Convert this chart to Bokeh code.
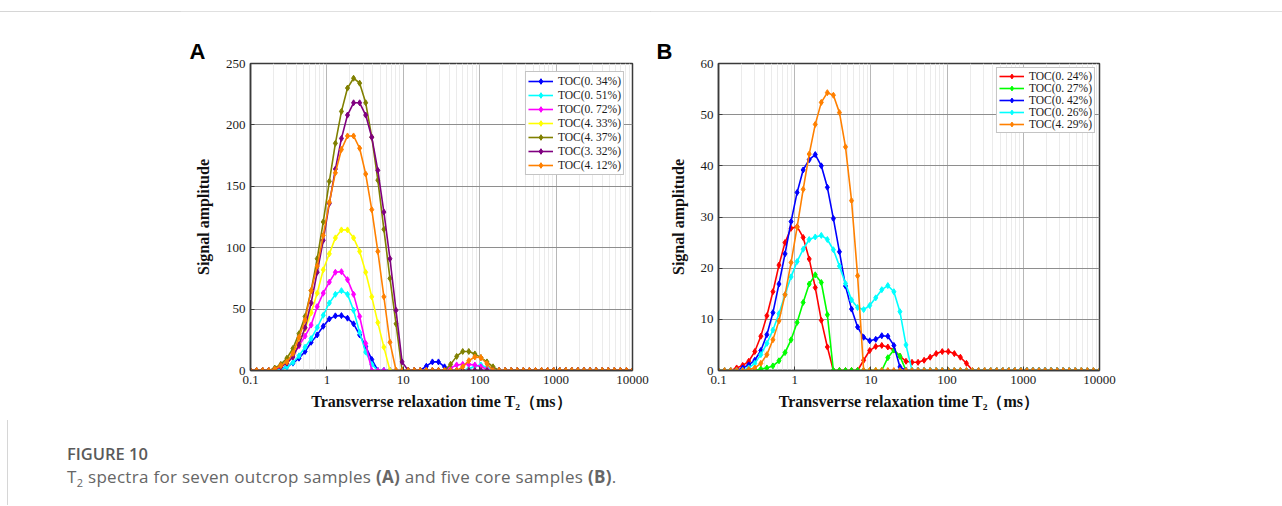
from bokeh.plotting import figure
from bokeh.models import Range1d, FixedTicker, Div, Spacer, CustomJSTickFormatter
from bokeh.layouts import column, row
from bokeh.embed import file_html
from bokeh.resources import INLINE

# ---------------- data ----------------
T2 = [0.1, 0.1201, 0.1442, 0.1731, 0.2078, 0.2494, 0.2994, 0.3594,
      0.4314, 0.5179, 0.6217, 0.7464, 0.8960, 1.0758, 1.2915, 1.5504,
      1.8612, 2.2344, 2.6827, 3.2201, 3.8656, 4.6416, 5.5720, 6.6888,
      8.0299, 9.6411, 11.574, 13.895, 16.681, 20.025, 24.040, 28.859,
      34.646, 41.593, 49.933, 59.948, 71.969, 86.401, 103.72, 124.52,
      149.49, 179.47, 215.44, 258.64, 310.50, 372.76, 447.51, 537.24,
      644.97, 774.26, 929.54, 1115.9, 1339.7, 1608.3, 1930.7, 2318.0,
      2782.6, 3340.5, 4010.4, 4814.6, 5780.2, 6939.2, 8330.5, 10000.0]

x_ticks = [0.1, 1, 10, 100, 1000, 10000]
yA_ticks = [0, 50, 100, 150, 200, 250]
yB_ticks = [0, 10, 20, 30, 40, 50, 60]

labels_A = ["TOC(0. 34%)", "TOC(0. 51%)", "TOC(0. 72%)", "TOC(4. 33%)",
            "TOC(4. 37%)", "TOC(3. 32%)", "TOC(4. 12%)"]
colors_A = ["#0000ff", "#00ffff", "#ff00ff", "#ffff00", "#808000", "#800080", "#ff8000"]

a_034 = [0, 0, 0, 0, 0.3, 1, 3, 6, 10, 15.5, 23, 29, 36, 42, 44.5, 44.7,
         42.6, 38, 29, 19.5, 9, 0, 0, 0, 0, 0, 0, 0, 0, 3.5, 7, 7,
         3, 0, 0, 0, 0, 0, 0, 0, 0, 0, 0, 0, 0, 0, 0, 0,
         0, 0, 0, 0, 0, 0, 0, 0, 0, 0, 0, 0, 0, 0, 0, 0]
a_051 = [0, 0, 0, 0, 0, 1, 3, 6.5, 12, 19, 26, 35, 45, 55, 62, 65,
         62, 49, 31, 15, 5, 0, 0, 0, 0, 0, 0, 0, 0, 0, 0, 0,
         0, 0, 0, 0, 1.5, 3.5, 4.5, 2.5, 0, 0, 0, 0, 0, 0, 0, 0,
         0, 0, 0, 0, 0, 0, 0, 0, 0, 0, 0, 0, 0, 0, 0, 0]
a_072 = [0, 0, 0, 0, 0.5, 3, 7, 13, 20, 28, 37, 52, 63, 72, 80, 80.5,
         74, 62, 44, 22, 0, 0, 0, 0, 0, 0, 0, 0, 0, 0, 0, 0,
         0, 2, 4.5, 5, 5, 4.5, 3, 1, 0, 0, 0, 0, 0, 0, 0, 0,
         0, 0, 0, 0, 0, 0, 0, 0, 0, 0, 0, 0, 0, 0, 0, 0]
a_433 = [0, 0, 0, 0, 1, 4, 7, 14, 22, 34, 47, 63, 82, 95, 108, 114.5,
         114.5, 108, 97, 80, 60, 39, 19, 0, 0, 0, 0, 0, 0, 0, 0, 0,
         0, 0, 0, 0, 0, 0, 0, 0, 0, 0, 0, 0, 0, 0, 0, 0,
         0, 0, 0, 0, 0, 0, 0, 0, 0, 0, 0, 0, 0, 0, 0, 0]
a_437 = [0, 0, 0, 0, 2, 5, 10, 18, 30, 44, 65, 91, 121, 154, 185, 211,
         230, 238, 234, 218, 190, 155, 115, 75, 38, 0, 0, 0, 0, 0, 0, 0,
         0, 5, 11.5, 15.5, 15.5, 13.5, 10.5, 7, 3, 0, 0, 0, 0, 0, 0, 0,
         0, 0, 0, 0, 0, 0, 0, 0, 0, 0, 0, 0, 0, 0, 0, 0]
a_332 = [0, 0, 0, 0, 1, 3, 6, 11, 21, 35, 55, 80, 106, 136, 164, 189,
         208, 218, 218, 208, 190, 163, 129, 91, 49, 7, 0, 0, 0, 0, 0, 0,
         0, 0, 0, 0, 0, 0, 0, 0, 0, 0, 0, 0, 0, 0, 0, 0,
         0, 0, 0, 0, 0, 0, 0, 0, 0, 0, 0, 0, 0, 0, 0, 0]
a_412 = [0, 0, 0, 0, 1, 4, 7, 14, 27, 41, 65, 85, 110, 137, 161, 180,
         191, 191, 181, 160, 131, 97, 60, 23, 0, 0, 0, 0, 0, 0, 0, 0,
         0, 0, 0, 3, 8, 11, 10.5, 5.5, 0, 0, 0, 0, 0, 0, 0, 0,
         0, 0, 0, 0, 0, 0, 0, 0, 0, 0, 0, 0, 0, 0, 0, 0]

labels_B = ["TOC(0. 24%)", "TOC(0. 27%)", "TOC(0. 42%)", "TOC(0. 26%)", "TOC(4. 29%)"]
colors_B = ["#ff0000", "#00ff00", "#0000ff", "#00ffff", "#ff8000"]

b_024 = [0, 0, 0, 0.5, 1, 1.8, 3.7, 6.7, 10.7, 15.4, 20.6, 25, 27.8, 28.1, 26, 21.8,
         16.2, 9.8, 4.6, 0, 0, 0, 0, 0, 2, 3.9, 4.7, 4.9, 4.6, 4.0, 2.8, 1.8,
         1.6, 1.6, 2.0, 2.6, 3.3, 3.7, 3.7, 3.3, 2.6, 1.4, 0, 0, 0, 0, 0, 0,
         0, 0, 0, 0, 0, 0, 0, 0, 0, 0, 0, 0, 0, 0, 0, 0]
b_027 = [0, 0, 0, 0, 0, 0, 0, 0.3, 0.5, 0.9, 1.9, 3.5, 6.0, 9.4, 13.3, 16.9,
         18.7, 17.2, 10.9, 0, 0, 0, 0, 0, 0, 0, 0, 0, 2.5, 4.0, 2.8, 0,
         0, 0, 0, 0, 0, 0, 0, 0, 0, 0, 0, 0, 0, 0, 0, 0,
         0, 0, 0, 0, 0, 0, 0, 0, 0, 0, 0, 0, 0, 0, 0, 0]
b_042 = [0, 0, 0, 0, 0.5, 1.1, 2.0, 3.9, 7.0, 11.3, 16.9, 22.8, 29.1, 34.8, 39.2, 41.2,
         42.2, 40.0, 35.8, 29.7, 23.2, 16.5, 12.0, 8.5, 6.5, 5.8, 6.1, 6.8, 6.7, 4.9, 0.7, 0,
         0, 0, 0, 0, 0, 0, 0, 0, 0, 0, 0, 0, 0, 0, 0, 0,
         0, 0, 0, 0, 0, 0, 0, 0, 0, 0, 0, 0, 0, 0, 0, 0]
b_026 = [0, 0, 0, 0, 0, 0.5, 1.4, 3.1, 5.3, 7.9, 11.1, 14.8, 18.3, 21.3, 23.7, 25.6,
         26.1, 26.4, 25.6, 23.6, 20.4, 17.0, 13.8, 12.3, 11.9, 12.7, 14.2, 15.8, 16.6, 15.4, 11.5, 5.0,
         0, 0, 0, 0, 0, 0, 0, 0, 0, 0, 0, 0, 0, 0, 0, 0,
         0, 0, 0, 0, 0, 0, 0, 0, 0, 0, 0, 0, 0, 0, 0, 0]
b_429 = [0, 0, 0, 0, 0, 0.2, 0.5, 1.4, 3.1, 6.0, 9.7, 14.8, 21.1, 28.0, 35.4, 42.3,
         48.1, 52.4, 54.3, 53.8, 50.4, 43.7, 33.2, 18.5, 0, 0, 0, 0, 0, 0, 0, 0,
         0, 0, 0, 0, 0, 0, 0, 0, 0, 0, 0, 0, 0, 0, 0, 0,
         0, 0, 0, 0, 0, 0, 0, 0, 0, 0, 0, 0, 0, 0, 0, 0]

series_A = [a_034, a_051, a_072, a_433, a_437, a_332, a_412]
series_B = [b_024, b_027, b_042, b_026, b_429]

X_LABEL = "Transverrse relaxation time T\u2082\uff08ms\uff09"
Y_LABEL = "Signal amplitude"

SERIF = "Liberation Serif"
FIG_H = 409


def panel(width, left, right, ymax, yticks, series, labels, colors, letter,
          letter_offset, legend_margin, item_h):
    p = figure(width=width, height=FIG_H, x_axis_type="log",
               x_range=Range1d(0.1, 10000), y_range=Range1d(0, ymax),
               output_backend="svg", toolbar_location=None,
               min_border_left=left, min_border_right=right,
               min_border_top=52, min_border_bottom=50,
               title=letter)
    p.title.align = "left"
    p.title.offset = letter_offset
    p.title.standoff = 0
    p.title.text_font = "Liberation Sans"
    p.title.text_font_style = "bold"
    p.title.text_font_size = "22px"
    p.title.text_color = "#000000"

    p.outline_line_color = "#3a3a3a"
    p.outline_line_width = 1.5
    p.background_fill_color = "white"
    p.border_fill_color = "white"

    minor = [d * k for d in x_ticks[:-1] for k in range(2, 10)]
    xt = FixedTicker(ticks=x_ticks, minor_ticks=minor)
    p.xaxis.ticker = xt
    p.xgrid.ticker = xt
    p.yaxis.ticker = FixedTicker(ticks=yticks)
    p.xaxis.formatter = CustomJSTickFormatter(
        code="return tick < 1 ? tick.toFixed(1) : tick.toFixed(0);")

    p.xgrid.grid_line_color = "#b8b8b8"
    p.xgrid.minor_grid_line_color = "#ebebeb"
    p.ygrid.grid_line_color = "#8e8e8e"

    for ax in (p.xaxis[0], p.yaxis[0]):
        ax.axis_line_color = "#3a3a3a"
        ax.axis_line_width = 1.5
        ax.major_tick_in = 4
        ax.major_tick_out = 0
        ax.major_tick_line_color = "#3a3a3a"
        ax.minor_tick_in = 0
        ax.minor_tick_out = 0
        ax.major_label_text_font = SERIF
        ax.major_label_text_color = "#1a1a1a"
        ax.axis_label_text_font = SERIF
        ax.axis_label_text_font_style = "bold"
        ax.axis_label_text_font_size = "16px"
        ax.axis_label_text_color = "#111111"
    p.xaxis.major_label_text_font_size = "13px"
    p.yaxis.major_label_text_font_size = "13px"
    p.xaxis.major_label_standoff = 5
    p.yaxis.major_label_standoff = 5
    p.xaxis.axis_label = X_LABEL
    p.yaxis.axis_label = Y_LABEL
    p.xaxis.axis_label_standoff = 6
    p.yaxis.axis_label_standoff = 11

    for ys, lab, col in zip(series, labels, colors):
        p.line(T2, ys, line_color=col, line_width=1.6, legend_label=lab)
        p.scatter(T2, ys, marker="diamond", size=6, fill_color=col,
                  line_color=col, legend_label=lab)

    lg = p.legend[0]
    lg.location = "top_right"
    lg.margin = legend_margin
    lg.padding = 2
    lg.spacing = 0
    lg.glyph_width = 25
    lg.glyph_height = item_h
    lg.label_height = item_h
    lg.label_standoff = 5
    lg.label_text_font = SERIF
    lg.label_text_font_size = "11.5px"
    lg.label_text_color = "#1a1a1a"
    lg.border_line_color = "#8a8a8a"
    lg.border_line_width = 1
    lg.background_fill_alpha = 1
    return p


pA = panel(470, 70, 18, 250, yA_ticks, series_A, labels_A, colors_A, "A", -61, 8, 14)
pB = panel(632, 68, 183, 60, yB_ticks, series_B, labels_B, colors_B, "B", -62, 4, 12)

top = Div(text='<div style="width:1282px;height:10px;border-bottom:1px solid #d6d6d6;"></div>',
          width=1282, height=11, margin=(0, 0, 0, 0))

caption_html = (
    '<div style="position:relative;width:1282px;height:85px;">'
    '<div style="position:absolute;left:7px;top:0px;width:0px;height:85px;'
    'border-left:1px solid #d6d6d6;"></div>'
    '<div style="position:absolute;left:67px;top:24px;font-family:\'Open Sans\';'
    'font-weight:600;font-size:16.5px;line-height:20px;color:#5a5a5a;white-space:nowrap;">'
    'FIGURE 10</div>'
    '<div style="position:absolute;left:67px;top:46px;font-family:\'Open Sans\';'
    'font-weight:400;font-size:17px;letter-spacing:0.3px;line-height:22px;color:#666666;'
    'white-space:nowrap;">'
    'T<sub style="font-size:11px;">2</sub> spectra for seven outcrop samples <b>(A)</b> '
    'and five core samples <b>(B)</b>.</div>'
    '</div>'
)
caption = Div(text=caption_html, width=1282, height=85, margin=(0, 0, 0, 0))

layout = column(top,
                row(Spacer(width=180, height=FIG_H), pA, pB),
                caption)

open("out.html", "w").write(file_html(layout, INLINE))
